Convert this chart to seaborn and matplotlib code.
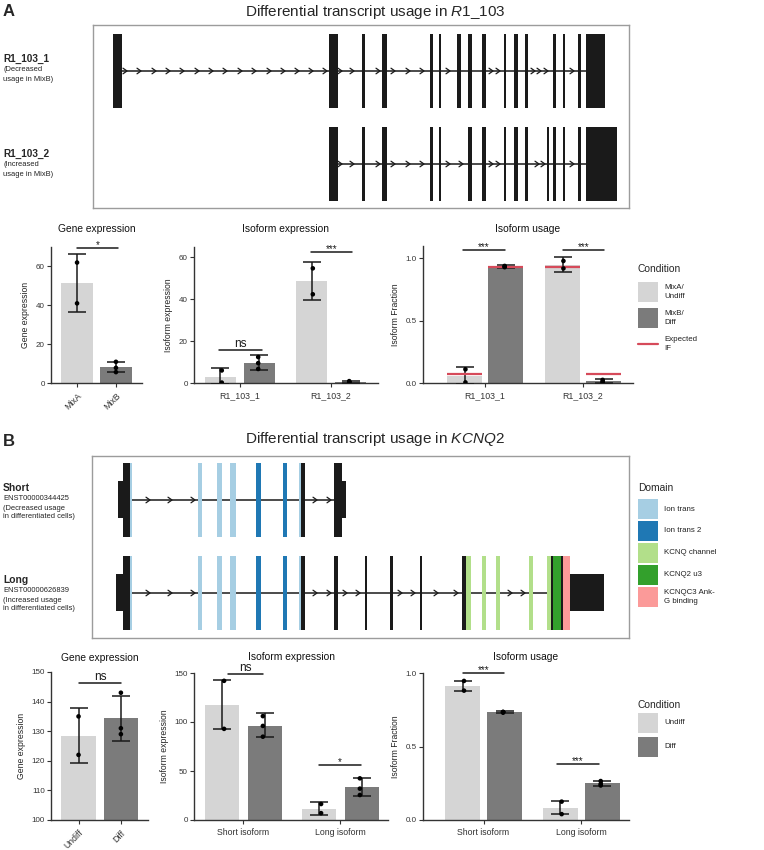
import matplotlib.pyplot as plt
import seaborn as sns
import pandas as pd
from matplotlib.patches import Rectangle

sns.set_style("ticks")
plt.rcParams['font.family'] = ['Liberation Sans', 'DejaVu Sans']
plt.rcParams['mathtext.fontset'] = 'custom'
plt.rcParams['mathtext.rm'] = 'Liberation Sans'
plt.rcParams['mathtext.it'] = 'Liberation Sans:italic'

W, H = 764, 850
LIGHT, DARK, INK, RED = "#d5d5d5", "#7b7b7b", "#1a1a1a", "#d64a5a"

# Domain legend
dom_names = ["Ion trans", "Ion trans 2", "KCNQ channel", "KCNQ2 u3", "KCNQC3 Ank-\nG binding"]
dom_colors = sns.color_palette("Paired", 5)
FILL = {"cds": INK, "utr": INK, "it": dom_colors[0], "it2": dom_colors[1],
        "ch": dom_colors[2], "u3": dom_colors[3], "ank": dom_colors[4]}

a_tx1_exons = [(113, 122), (329, 338), (362, 365), (382, 387), (430, 433), (439, 441), (457, 461),
               (468, 472), (482, 486), (504, 506), (514, 518), (525, 528), (553, 556), (563, 565),
               (578, 581), (586, 605)]
a_tx1_arrows = [127, 141, 156, 170, 184, 199, 213, 227, 242, 256, 271, 285, 299, 313, 327,
                342, 354, 380, 395, 410, 424, 450, 493, 500, 535, 541, 548, 574]
a_tx2_exons = [(329, 338), (362, 365), (382, 387), (430, 433), (439, 441), (468, 472), (482, 486),
               (504, 506), (514, 518), (525, 528), (547, 548.5), (553, 556), (563, 565), (578, 581),
               (586, 617)]
a_tx2_arrows = [342, 354, 380, 395, 410, 424, 450, 463, 493, 500, 539, 545, 574]

b_short_exons = [(118, 123, "utr"), (123, 131, "cds"), (130, 131.5, "it"), (198, 202, "it"),
                 (217, 222, "it"), (230, 236, "it"), (256, 261, "it2"), (283, 287, "it2"),
                 (299, 301, "it"), (301, 305, "cds"), (334, 342, "cds"), (342, 346, "utr")]
b_short_arrows = [150, 172, 195, 317, 331]
b_long_exons = [(116, 123, "utr"), (123, 131, "cds"), (130, 131.5, "it"), (198, 202, "it"),
                (217, 222, "it"), (230, 236, "it"), (256, 261, "it2"), (283, 287, "it2"),
                (299, 301, "it"), (301, 305, "cds"), (334, 338, "cds"), (365, 367, "cds"),
                (390, 393, "cds"), (420, 422, "cds"), (462, 466, "cds"), (466, 471, "ch"),
                (482, 486, "ch"), (496, 500, "ch"), (529, 533, "ch"), (547, 551, "ch"),
                (551, 552.5, "cds"), (552.5, 561, "u3"), (561, 563, "cds"), (563, 570, "ank"),
                (570, 604, "utr")]
b_long_arrows = [150, 172, 195, 317, 331, 347, 360, 402, 415, 438, 458, 512, 525]

# ---- bar chart data ----
a_cond = ["MixA", "MixB"]
a_gene_cond = ["MixA", "MixA", "MixB", "MixB", "MixB"]
a_gene_val = [62.0, 41.0, 10.9, 7.8, 5.6]
a_gene_lo = [36.6, 5.6]
a_gene_hi = [66.2, 10.9]

a_iso = ["R1_103_1", "R1_103_2"]
a_iso_name = ["R1_103_1"] * 5 + ["R1_103_2"] * 5
a_iso_cond = ["MixA", "MixA", "MixB", "MixB", "MixB"] * 2
a_iso_val = [6.0, 0.2, 12.4, 9.5, 6.7, 54.8, 42.4, 0.4, 0.9, 0.3]
a_iso_lo = [-0.6, 6.2, 39.5, 0.2]
a_iso_hi = [7.3, 13.6, 58.0, 1.0]

a_use_val = [0.11, 0.005, 0.93, 0.94, 0.935, 0.98, 0.92, 0.01, 0.025, 0.005]
a_use_lo = [-0.01, 0.925, 0.895, 0.0]
a_use_hi = [0.13, 0.945, 1.01, 0.035]
a_expected_if = [0.075, 0.935, 0.935, 0.075]

b_cond = ["Undiff", "Diff"]
b_gene_cond = ["Undiff", "Undiff", "Diff", "Diff", "Diff"]
b_gene_val = [135.0, 122.0, 143.0, 131.0, 129.0]
b_gene_lo = [119.3, 126.7]
b_gene_hi = [137.7, 142.0]

b_iso = ["Short isoform", "Long isoform"]
b_iso_name = ["Short isoform"] * 5 + ["Long isoform"] * 5
b_iso_cond = ["Undiff", "Undiff", "Diff", "Diff", "Diff"] * 2
b_iso_val = [142.0, 93.0, 106.0, 96.0, 85.0, 16.3, 7.0, 42.5, 32.0, 25.5]
b_iso_lo = [93.0, 85.0, 5.0, 24.5]
b_iso_hi = [143.0, 109.0, 18.0, 42.5]

b_use_val = [0.946, 0.88, 0.73, 0.735, 0.735, 0.125, 0.04, 0.265, 0.245, 0.235]
b_use_lo = [0.875, 0.727, 0.04, 0.232]
b_use_hi = [0.946, 0.741, 0.13, 0.268]

fig = plt.figure(figsize=(W / 100, H / 100), dpi=100)


def px_axes(x0, y0, x1, y1):
    return fig.add_axes([x0 / W, 1 - y1 / H, (x1 - x0) / W, (y1 - y0) / H])


def gene_axes(x0, y0, x1, y1):
    ax = px_axes(x0, y0, x1, y1)
    ax.set_xlim(x0, x1)
    ax.set_ylim(y1, y0)
    ax.set_xticks([])
    ax.set_yticks([])
    for s in ax.spines.values():
        s.set_color("#9c9c9c")
        s.set_linewidth(1)
    return ax


def draw_transcript(ax, yc, exons, arrows, half=37, utr_half=18.5):
    starts = [e[0] for e in exons]
    ends = [e[1] for e in exons]
    ax.plot([min(ends), max(starts)], [yc, yc], color=INK, lw=1.1, zorder=1)
    for x in arrows:
        ax.plot([x - 4, x, x - 4], [yc - 2.8, yc, yc + 2.8], color=INK, lw=0.9, zorder=2)
    for e in exons:
        kind = e[2] if len(e) > 2 else "cds"
        h = utr_half if kind == "utr" else half
        ax.broken_barh([(e[0], e[1] - e[0])], (yc - h, 2 * h), facecolors=FILL[kind],
                       edgecolor="none", linewidth=0, zorder=3)


def bar_panel(box, df, x, order, hue_order, lo, hi, ylim, yticks, yfmt, xlim, width, gap,
              title, ylabel, pad, sigs, expected=None, rotate=False):
    ax = px_axes(*box)
    dodge = x != "cond"
    sns.barplot(data=df, x=x, y="value", hue="cond", order=order, hue_order=hue_order,
                palette=[LIGHT, DARK], errorbar=None, width=width, gap=gap, dodge=dodge,
                legend=False, linewidth=0, edgecolor="none", ax=ax)
    bars = sorted(ax.patches, key=lambda p: p.get_x())
    xs = [p.get_x() + p.get_width() / 2 for p in bars]
    mid = [(a + b) / 2 for a, b in zip(lo, hi)]
    half = [(b - a) / 2 for a, b in zip(lo, hi)]
    ax.errorbar(xs, mid, yerr=half, fmt="none", ecolor=INK, elinewidth=1.1,
                capsize=6.5, capthick=1.1, zorder=4)
    if expected is not None:
        for p, e in zip(bars, expected):
            ax.hlines(e, p.get_x(), p.get_x() + p.get_width(), color=RED, lw=1.6, zorder=5)
    sns.stripplot(data=df, x=x, y="value", hue="cond", order=order, hue_order=hue_order,
                  dodge=dodge, jitter=False, palette=["black", "black"], size=3.3,
                  legend=False, zorder=6, ax=ax)
    for x1, x2, y, txt in sigs:
        ax.plot([x1, x2], [y, y], color=INK, lw=1.1, clip_on=False)
        fs = 8.5 if txt == "ns" else 7
        ax.annotate(txt, ((x1 + x2) / 2, y), xytext=(0, 0.3 if txt == "ns" else -1.5),
                    textcoords="offset points", ha="center", va="bottom", fontsize=fs,
                    color=INK, annotation_clip=False)
    ax.set_xlim(*xlim)
    ax.set_ylim(*ylim)
    ax.set_yticks(yticks)
    ax.set_yticklabels([yfmt.format(t) for t in yticks])
    ax.set_xlabel("")
    ax.set_ylabel(ylabel, fontsize=6.2, color="#222222", labelpad=4)
    ax.set_title(title, fontsize=7.4, pad=pad, color="#111111")
    ax.spines[["top", "right"]].set_visible(False)
    for s in ["left", "bottom"]:
        ax.spines[s].set_linewidth(1.0)
        ax.spines[s].set_color("#333333")
    ax.tick_params(axis="y", length=3, width=0.8, colors="#333333", labelsize=5.8, pad=1.5)
    ax.tick_params(axis="x", length=3, width=0.8, colors="#333333", labelsize=6.3, pad=3)
    if rotate:
        plt.setp(ax.get_xticklabels(), rotation=45, ha="right", rotation_mode="anchor")
    return ax


# overlay in figure pixels for row labels and legends
ov = fig.add_axes([0, 0, 1, 1])
ov.set_xlim(0, W)
ov.set_ylim(H, 0)
ov.axis("off")


def row_label(name, y_name, lines, y_lines, size):
    ov.text(3, y_name, name, fontsize=size, fontweight="bold", va="center")
    for t, y in zip(lines, y_lines):
        ov.text(3, y, t, fontsize=5.4, va="center", color="#222222")


def legend(title, title_y, colors, labels, top, pitch, x=638, box=20):
    ov.text(x, title_y, title, fontsize=7.4, va="center")
    for i, (c, lab) in enumerate(zip(colors, labels)):
        y0 = top + i * pitch
        if c == "line":
            ov.plot([x, x + box], [y0 + box / 2, y0 + box / 2], color=RED, lw=1.6)
        else:
            ov.add_patch(Rectangle((x, y0), box, box, facecolor=c, edgecolor="none", lw=0))
        ov.text(x + 26, y0 + box / 2, lab, fontsize=5.7, va="center", color="#222222",
                linespacing=1.25)


# ================= Panel A =================
fig.text(3 / W, 1 - 11 / H, "A", fontsize=12, fontweight="bold", va="center")
fig.text(375 / W, 1 - 12 / H, r"Differential transcript usage in $\mathit{R1\_103}$",
         fontsize=11, ha="center", va="center")
ax = gene_axes(93, 25, 629, 208)
draw_transcript(ax, 71, a_tx1_exons, a_tx1_arrows)
draw_transcript(ax, 164, a_tx2_exons, a_tx2_arrows)
row_label("R1_103_1", 59, ["(Decreased", "usage in MixB)"], [69, 79], 7.2)
row_label("R1_103_2", 154, ["(Increased", "usage in MixB)"], [164, 174], 7.2)

df = pd.DataFrame({"cond": a_gene_cond, "value": a_gene_val})
bar_panel((51, 247, 142, 383), df, "cond", a_cond, a_cond, a_gene_lo, a_gene_hi,
          (0, 70), [0, 20, 40, 60], "{:g}", (-0.67, 1.67), 0.82, 0,
          "Gene expression", "Gene expression", 11, [(0, 1.05, 69.7, "*")], rotate=True)

df = pd.DataFrame({"iso": a_iso_name, "cond": a_iso_cond, "value": a_iso_val})
bar_panel((194, 247, 378, 383), df, "iso", a_iso, a_cond, a_iso_lo, a_iso_hi,
          (0, 65), [0, 20, 40, 60], "{:g}", (-0.505, 1.516), 0.857, 0.186,
          "Isoform expression", "Isoform expression", 11,
          [(-0.23, 0.24, 15.7, "ns"), (0.78, 1.23, 62.4, "***")])

df = pd.DataFrame({"iso": a_iso_name, "cond": a_iso_cond, "value": a_use_val})
bar_panel((423, 246, 633, 383), df, "iso", a_iso, a_cond, a_use_lo, a_use_hi,
          (0, 1.1), [0, 0.5, 1.0], "{:.1f}", (-0.633, 1.51), 0.836, 0.146,
          "Isoform usage", "Isoform Fraction", 10,
          [(-0.22, 0.2, 1.064, "***"), (0.8, 1.21, 1.064, "***")], expected=a_expected_if)

legend("Condition", 269, [LIGHT, DARK, "line"], ["MixA/\nUndiff", "MixB/\nDiff", "Expected\nIF"],
       282, 26)

# ================= Panel B =================
fig.text(3 / W, 1 - 441 / H, "B", fontsize=12, fontweight="bold", va="center")
fig.text(375 / W, 1 - 439 / H, r"Differential transcript usage in $\mathit{KCNQ2}$",
         fontsize=11, ha="center", va="center")
ax = gene_axes(92, 456, 629, 638)
draw_transcript(ax, 500, b_short_exons, b_short_arrows)
draw_transcript(ax, 593, b_long_exons, b_long_arrows)
row_label("Short", 488, ["ENST00000344425", "(Decreased usage", "in differentiated cells)"],
          [498, 508, 517], 7.4)
row_label("Long", 580, ["ENST00000626839", "(Increased usage", "in differentiated cells)"],
          [590, 600, 609], 7.4)

legend("Domain", 488, dom_colors, dom_names, 499, 22)

df = pd.DataFrame({"cond": b_gene_cond, "value": b_gene_val})
bar_panel((51, 672, 148, 820), df, "cond", b_cond, b_cond, b_gene_lo, b_gene_hi,
          (100, 150), [100, 110, 120, 130, 140, 150], "{:g}", (-0.65, 1.64), 0.81, 0,
          "Gene expression", "Gene expression", 8, [(0.01, 1.0, 146.3, "ns")], rotate=True)

df = pd.DataFrame({"iso": b_iso_name, "cond": b_iso_cond, "value": b_iso_val})
bar_panel((194, 673, 388, 820), df, "iso", b_iso, b_cond, b_iso_lo, b_iso_hi,
          (0, 150), [0, 50, 100, 150], "{:g}", (-0.51, 1.49), 0.887, 0.2,
          "Isoform expression", "Isoform expression", 9,
          [(-0.16, 0.2, 149, "ns"), (0.78, 1.21, 56, "*")])

df = pd.DataFrame({"iso": b_iso_name, "cond": b_iso_cond, "value": b_use_val})
bar_panel((423, 673, 629, 820), df, "iso", b_iso, b_cond, b_use_lo, b_use_hi,
          (0, 1.0), [0, 0.5, 1.0], "{:.1f}", (-0.62, 1.49), 0.86, 0.165,
          "Isoform usage", "Isoform Fraction", 9,
          [(-0.21, 0.21, 1.0, "***"), (0.75, 1.18, 0.38, "***")])

legend("Condition", 705, [LIGHT, DARK], ["Undiff", "Diff"], 713, 24)

fig.savefig("out.png", dpi=100)
